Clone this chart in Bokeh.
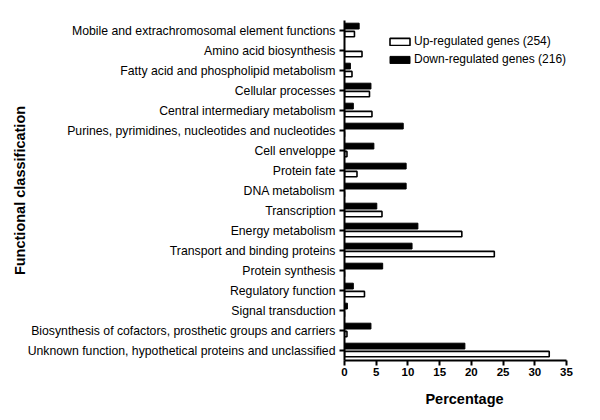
from bokeh.plotting import figure
from bokeh.models import FactorRange, FixedTicker, Legend, LegendItem, ColumnDataSource, Range1d
from bokeh.transform import dodge
from bokeh.embed import file_html
from bokeh.resources import INLINE

# Categories, top to bottom as shown in the chart
categories = [
    "Mobile and extrachromosomal element functions",
    "Amino acid biosynthesis",
    "Fatty acid and phospholipid metabolism",
    "Cellular processes",
    "Central intermediary metabolism",
    "Purines, pyrimidines, nucleotides and nucleotides",
    "Cell enveloppe",
    "Protein fate",
    "DNA metabolism",
    "Transcription",
    "Energy metabolism",
    "Transport and binding proteins",
    "Protein synthesis",
    "Regulatory function",
    "Signal transduction",
    "Biosynthesis of cofactors, prosthetic groups and carriers",
    "Unknown function, hypothetical proteins and unclassified",
]

# Percentages (same order as categories)
up_regulated = [1.57, 2.76, 1.18, 3.94, 4.33, 0.0, 0.39, 1.97, 0.0, 5.91,
                18.50, 23.62, 0.0, 3.15, 0.0, 0.39, 32.28]
down_regulated = [2.31, 0.0, 0.93, 4.17, 1.39, 9.26, 4.63, 9.72, 9.72, 5.09,
                  11.57, 10.65, 6.02, 1.39, 0.46, 4.17, 18.98]

x_ticks = [0, 5, 10, 15, 20, 25, 30, 35]
up_label = "Up-regulated genes (254)"
down_label = "Down-regulated genes (216)"

FONT = "Liberation Sans"

src = ColumnDataSource(dict(cat=categories, up=up_regulated, down=down_regulated))

# frame extends a little past 35 so the legend text is never clipped;
# the axis line itself stops at 35 (bounds)
p = figure(
    width=584, height=412,
    y_range=FactorRange(factors=list(reversed(categories))),
    x_range=Range1d(0, 37.84),
    output_backend="svg", toolbar_location=None,
    min_border_left=344, min_border_right=0,
    min_border_top=20, min_border_bottom=52,
)
p.outline_line_color = None
p.xgrid.visible = False
p.ygrid.visible = False
p.background_fill_color = "white"
p.border_fill_color = "white"

r_down = p.hbar(y=dodge("cat", 0.22, range=p.y_range), right="down", left=0,
                height=0.29, source=src, fill_color="black", line_color="black",
                line_width=1)
r_up = p.hbar(y=dodge("cat", -0.18, range=p.y_range), right="up", left=0,
              height=0.27, source=src, fill_color="white", line_color="black",
              line_width=1.6)

# X axis
xa = p.xaxis[0]
xa.ticker = FixedTicker(ticks=x_ticks)
xa.bounds = (0, 35)
xa.axis_line_width = 2
xa.major_tick_line_width = 2
xa.major_tick_out = 5
xa.major_tick_in = 0
xa.minor_tick_out = 0
xa.minor_tick_in = 0
xa.major_label_text_font = FONT
xa.major_label_text_font_style = "bold"
xa.major_label_text_font_size = "11.5px"
xa.major_label_text_color = "black"
xa.major_label_standoff = 2
xa.axis_label = "Percentage"
xa.axis_label_text_font = FONT
xa.axis_label_text_font_style = "bold"
xa.axis_label_text_font_size = "14.5px"
xa.axis_label_text_color = "black"
xa.axis_label_standoff = 12

# Y axis
ya = p.yaxis[0]
ya.axis_line_width = 2
ya.major_tick_line_width = 2
ya.major_tick_out = 5
ya.major_tick_in = 0
ya.major_label_text_font = FONT
ya.major_label_text_font_size = "12.25px"
ya.major_label_text_color = "black"
ya.major_label_standoff = 4
ya.axis_label = "Functional classification"
ya.axis_label_text_font = FONT
ya.axis_label_text_font_style = "bold"
ya.axis_label_text_font_size = "14.5px"
ya.axis_label_text_color = "black"
ya.axis_label_standoff = -3

legend = Legend(
    items=[LegendItem(label=up_label, renderers=[r_up]),
           LegendItem(label=down_label, renderers=[r_down])],
    location=(43, 294),
    border_line_color=None, background_fill_alpha=0,
    padding=0, margin=0, spacing=4,
    glyph_width=25, glyph_height=9, label_height=14,
    label_standoff=2,
    label_text_font=FONT, label_text_font_size="12px", label_text_color="black",
)
p.add_layout(legend)

open("out.html", "w").write(file_html(p, INLINE))
